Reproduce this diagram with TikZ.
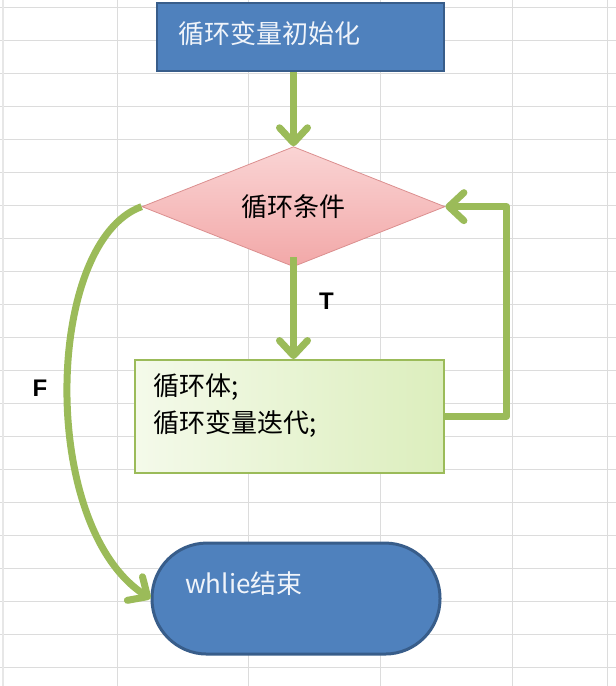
\documentclass[tikz,border=0pt]{standalone}
\usepackage{fontspec}
\setmainfont{Noto Sans CJK SC}
\newfontfamily\flagfont{Liberation Sans}
\usetikzlibrary{shapes.geometric, arrows.meta, positioning}

\definecolor{boxblue}{HTML}{4F81BD}
\definecolor{boxblueline}{HTML}{385D8A}
\definecolor{boxtext}{HTML}{F0F4FA}
\definecolor{flowgreen}{HTML}{9BBB59}
\definecolor{condtop}{HTML}{FAD4D4}
\definecolor{condbottom}{HTML}{F2A8A8}
\definecolor{condline}{HTML}{DB8F8F}
\definecolor{bodylight}{HTML}{F4FAEA}
\definecolor{bodydark}{HTML}{DCEEBD}
\definecolor{gridgray}{HTML}{DCDCDC}

\begin{document}
\begin{tikzpicture}[
    x=1pt, y=-1pt,
    initbox/.style={rectangle, draw=boxblueline, line width=2.5pt, fill=boxblue, text=boxtext, minimum width=287pt, minimum height=68pt, inner xsep=21pt, text width=245pt, align=left, text height=22pt, text depth=10pt, font=\fontsize{26pt}{30pt}\selectfont},
    condbox/.style={diamond, aspect=2.5, draw=condline, line width=0.8pt, top color=condtop, bottom color=condbottom, minimum width=303pt, minimum height=120pt, inner sep=0pt, font=\fontsize{26pt}{30pt}\selectfont},
    bodybox/.style={rectangle, draw=flowgreen, line width=1.5pt, left color=bodylight, right color=bodydark, minimum width=309pt, minimum height=113pt, inner xsep=18pt, inner ysep=13.5pt, font=\fontsize{26pt}{37pt}\selectfont},
    endbox/.style={rectangle, rounded corners=55pt, draw=boxblueline, line width=3pt, fill=boxblue, text=boxtext, minimum width=288pt, minimum height=111pt, inner xsep=33pt, text width=222pt, align=left, text height=20pt, text depth=30pt, font=\fontsize{26pt}{30pt}\selectfont},
    arrow/.style={flowgreen, line width=7pt, line join=round, -{Straight Barb[length=15pt, width=28pt, round]}},
    flag/.style={inner sep=0pt, text=black, font=\flagfont\bfseries\fontsize{24pt}{24pt}\selectfont}
]
\useasboundingbox (0,0) rectangle (616,686);

% spreadsheet grid behind the chart
\foreach \gy in {0,...,20}
  \draw[gridgray, line width=1pt] (0,7+33*\gy) -- (616,7+33*\gy);
\foreach \gx in {117,248,380,512,607}
  \draw[gridgray, line width=1pt] (\gx,0) -- (\gx,686);
\draw[gridgray!70, line width=2pt] (3,0) -- (3,686);

% Flow nodes
\node (init) [initbox] at (300.5,37) {循环变量初始化};
\node (cond) [condbox, below=74pt of init, xshift=-7pt] {循环条件};
\node (body) [bodybox, below=92pt of cond, xshift=-4pt] {\parbox[c][86pt][t]{273pt}{循环体;\\循环变量迭代;}};
\node (stop) [endbox, below=68pt of body, xshift=6.5pt] {whlie结束};

% Arrows
\draw [arrow] (init.south -| cond.north) -- (cond.north);
\draw [arrow] ([yshift=10pt]cond.south) -- node[flag, pos=0.43, right=22pt] {T} (cond.south |- body.north);
\draw [arrow] (body.east) -- ++(62,0) |- (cond.east);
\draw [arrow] (cond.west) .. controls +(-97,35) and +(-112,-72) .. (stop.west) node[flag, pos=0.5, left=17pt] {F};

\end{tikzpicture}
\end{document}
